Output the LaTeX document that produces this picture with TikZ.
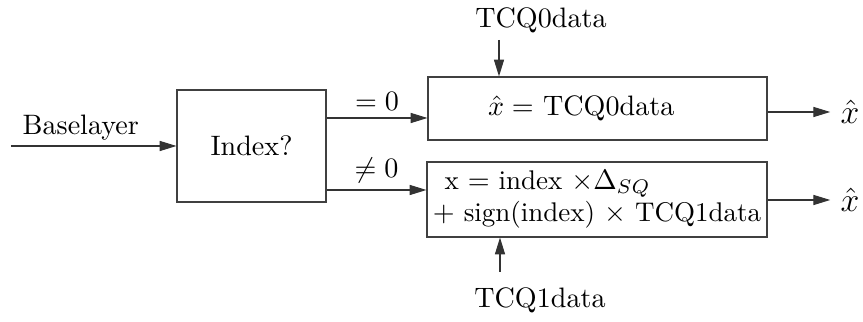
\documentclass[tikz,border=0pt]{standalone}
\usepackage{amsmath}
\usepackage{amssymb}
\usepackage{tikz}
\usetikzlibrary{arrows.meta, positioning}

\begin{document}
\begin{tikzpicture}[
			block/.style={draw=black!75, thin, rectangle, inner sep=0pt},
			edge/.style={-{Triangle[length=6pt, width=3.6pt]}, thin, draw=black!80},
			result/.style={inner sep=3.5pt, font=\large}
			]
			\useasboundingbox (0,0) rectangle (10.7875,-4.025);
			
			% ---------------- INPUT ----------------
			\coordinate (in) at (0.1375,-1.825);
			\node (base) at (1.01,-1.6) {Baselayer};
			\node[block, minimum width=1.8625cm, minimum height=1.4cm] (index) at (3.144,-1.825) {Index?};
			\draw[edge] (in) -- (index.west |- in);
			
			% ---------------- UPPER BRANCH ----------------
			\node[block, minimum width=4.2375cm, minimum height=0.7875cm, text width=2.7375cm, align=left] (zero) at (7.469,-1.356) {$\hat{x} =$ TCQ0data};
			\node (tcq0) at (6.7625,-0.25) {TCQ0data};
			\coordinate (t0) at (6.2375,-0.5);
			\node[result] (x0) at (10.625,-1.4) {$\hat{x}$};
			
			\draw[edge] (index.east |- 0,-1.475) -- node[above, yshift=-1pt] {$=0$} (zero.west |- 0,-1.475);
			\draw[edge] (t0) -- (t0 |- zero.north);
			\draw[edge] (zero.east |- x0) -- (x0.west);
			
			% ---------------- LOWER BRANCH ----------------
			\node[block, minimum width=4.25cm, minimum height=0.9375cm, align=left, font=\fontsize{9.6}{11.4}\selectfont] (nonzero) at (7.4625,-2.494) {\hspace{1ex}x $=$ index $\times\Delta_{SQ}$\\$+$ sign(index) $\times$ TCQ1data};
			\node (tcq1) at (6.75,-3.75) {TCQ1data};
			\coordinate (t1) at (6.25,-3.4);
			\node[result] (x1) at (10.625,-2.5) {$\hat{x}$};
			
			\draw[edge] (index.east |- 0,-2.375) -- node[above, yshift=-1pt] {$\neq 0$} (nonzero.west |- 0,-2.375);
			\draw[edge] (t1) -- (t1 |- nonzero.south);
			\draw[edge] (nonzero.east |- x1) -- (x1.west);
			
		\end{tikzpicture}
\end{document}
